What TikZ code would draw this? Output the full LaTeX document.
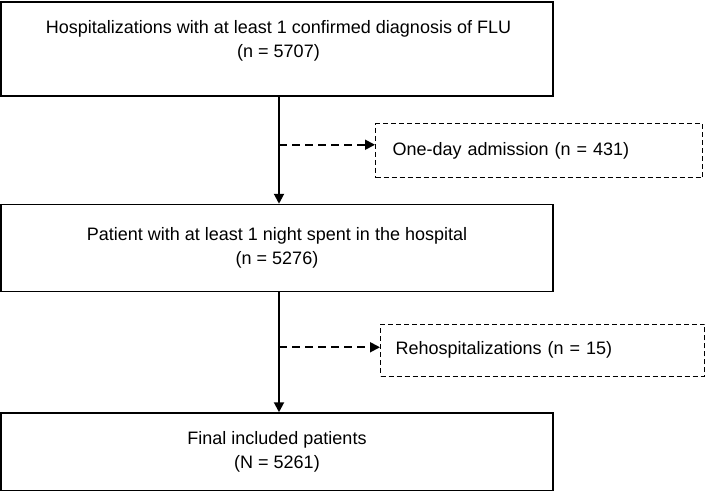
\documentclass[tikz,border=0pt]{standalone}
\usepackage{fontspec}
\setmainfont{Liberation Sans}
\usetikzlibrary{arrows.meta,positioning}
\tikzset{
    %Define standard arrow tip
    >={Triangle[length=10pt,width=10pt]},
    %Define style for boxes
    flowbox/.style={
           rectangle,
           draw=black, line width=1.5pt,
           minimum width=552pt,
           minimum height=2em,
           align=center,
           font=\fontsize{18}{24}\selectfont},
    flowtext/.style={
           align=center,
           font=\fontsize{18}{24}\selectfont},
    exclbox/.style={
           rectangle,
           draw=black, line width=1.3pt, dash pattern=on 5pt off 3pt,
           minimum height=54pt,
           text width=293pt,
           inner xsep=17pt,
           align=left,
           font=\fontsize{18}{24}\selectfont},
    % Define arrow style
    pil/.style={
           ->,
           line width=2pt},
    pildash/.style={
           ->,
           line width=1.8pt,
           dash pattern=on 8pt off 5pt}
}
\begin{document}
\begin{tikzpicture}[x=1pt,y=-1pt]
\useasboundingbox (0,0) rectangle (709,490);
\node[flowbox, minimum height=94pt](hosp) at (277,49){};
\node[flowtext](hosptxt) at (278.5,41){Hospitalizations with at least 1 confirmed diagnosis of FLU\\(n = 5707)};
\node[flowbox, minimum height=87pt, below right=107pt and 0pt of hosp.south west](night){Patient with at least 1 night spent in the hospital\\(n = 5276)};
\node[flowbox, minimum height=78pt, below right=120pt and 0pt of night.south west](final){Final included patients\\(N = 5261)};

\coordinate (split1) at ([xshift=2pt,yshift=-48pt]hosp.south);
\coordinate (split2) at ([xshift=2pt,yshift=-55pt]night.south);
\node[exclbox, right=96pt of split1, yshift=-6pt](oneday){One-day admission (n = 431)};
\node[exclbox, minimum height=52pt, text width=294pt, inner xsep=15pt, right=101pt of split2, yshift=-3pt](rehosp){Rehospitalizations (n = 15)};

\path[]
	(split1 |- hosp.south) edge[pil] (split1 |- night.north)
	(split2 |- night.south) edge[pil] (split2 |- final.north)
	(split1) edge[pildash] (oneday.west |- split1)
	(split2) edge[pildash] (rehosp.west |- split2);
\end{tikzpicture}
\end{document}
